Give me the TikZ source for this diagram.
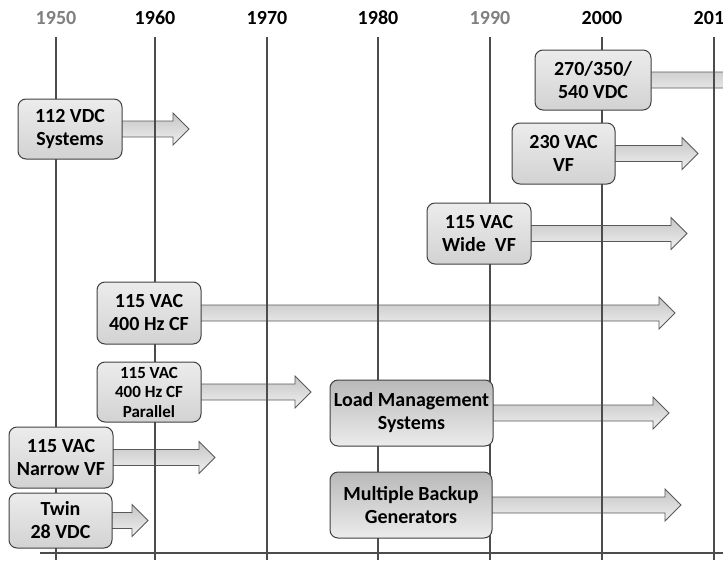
\documentclass[tikz,border=0pt]{standalone}
\usepackage{fontspec}
\setmainfont{Carlito}
\usetikzlibrary{calc,backgrounds}

% block arrow from the east side of a box to the x position #2
\newcommand{\flowarrow}[2]{%
\path[flow] let \p1=(#1.east) in
 (\x1-3pt,\y1+8pt) -- (#2pt-16pt,\y1+8pt) -- (#2pt-16pt,\y1+16pt) -- (#2pt,\y1)
 -- (#2pt-16pt,\y1-16pt) -- (#2pt-16pt,\y1-8pt) -- (\x1-3pt,\y1-8pt) -- cycle;}

\begin{document}
\begin{tikzpicture}[x=1pt, y=-1pt,
  year/.style={font=\fontsize{20}{22}\selectfont\bfseries},
  grid/.style={draw=black!70, line width=1.2pt},
  box/.style={draw=black!75, line width=1pt, rounded corners=8pt, align=center,
    top color=gray!15, bottom color=gray!35, inner sep=0pt,
    font=\fontsize{20}{23}\selectfont\bfseries},
  darkbox/.style={box, top color=gray!55, bottom color=gray!15},
  flow/.style={draw=black!65, line width=0.8pt, top color=gray!45, bottom color=gray!12}]
\useasboundingbox (0,0) rectangle (723,560);
\clip (0,0) rectangle (723,560);

% time axis
\foreach \yr/\xx/\col in {1950/56/gray, 1960/155/black, 1970/267/black,
  1980/378/black, 1990/490/gray, 2000/602/black, 2010/714/black}{
  \node[year, text=\col] (y\yr) at (\xx,18) {\yr};
  \draw[grid] (\xx,37) -- (\xx,560);
}
\draw[grid] (40,553) -- (723,553);

% systems
\node[box, minimum width=116pt, minimum height=60pt] (v270) at (593,80) {270/350/\\540 VDC};
\node[box, minimum width=104pt, minimum height=60pt] (v112) at (70,129) {112 VDC\\Systems};
\node[box, minimum width=103pt, minimum height=61pt] (v230) at (563.5,153.5) {230 VAC\\VF};
\node[box, minimum width=104pt, minimum height=61pt] (wide) at (479,233.5) {115 VAC\\Wide\ \ VF};
\node[box, minimum width=104pt, minimum height=62pt] (cf) at (149,313) {115 VAC\\400 Hz CF};
\node[box, minimum width=104pt, minimum height=60pt,
  font=\fontsize{17}{19.5}\selectfont\bfseries] (par) at (149,392) {115 VAC\\400 Hz CF\\Parallel};
\node[darkbox, minimum width=163pt, minimum height=66pt] (load) at (411.5,413) {Load Management\\Systems};
\node[box, minimum width=104pt, minimum height=61pt] (narrow) at (61,457.5) {115 VAC\\Narrow VF};
\node[darkbox, minimum width=162pt, minimum height=66pt] (backup) at (411,505) {Multiple Backup\\Generators};
\node[box, minimum width=103pt, minimum height=55pt] (twin) at (60.5,520.5) {Twin\\28 VDC};

\begin{scope}[on background layer]
\flowarrow{v270}{745}
\flowarrow{v112}{189}
\flowarrow{v230}{698}
\flowarrow{wide}{687}
\flowarrow{cf}{675}
\flowarrow{par}{311}
\flowarrow{load}{669}
\flowarrow{narrow}{215}
\flowarrow{backup}{681}
\flowarrow{twin}{148}
\end{scope}
\end{tikzpicture}
\end{document}
